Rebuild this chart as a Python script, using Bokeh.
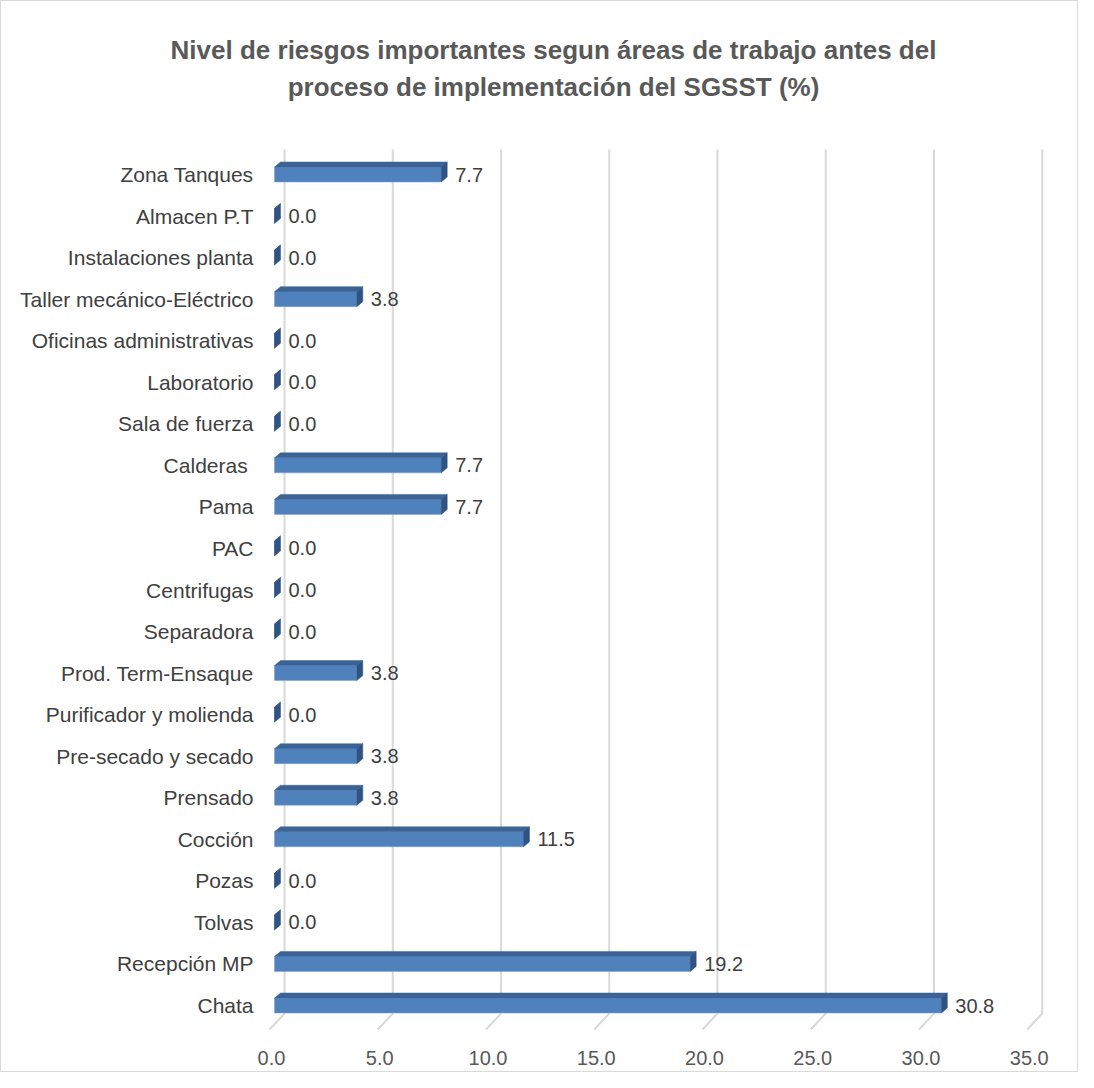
from bokeh.plotting import figure
from bokeh.models import ColumnDataSource, Range1d
from bokeh.embed import file_html
from bokeh.resources import INLINE
from bokeh.core.properties import value

# ---- data (bottom to top) ----
categories = ["Chata", "Recepción MP", "Tolvas", "Pozas", "Cocción", "Prensado",
              "Pre-secado y secado", "Purificador y molienda", "Prod. Term-Ensaque",
              "Separadora", "Centrifugas", "PAC", "Pama", "Calderas ", "Sala de fuerza",
              "Laboratorio", "Oficinas administrativas", "Taller mecánico-Eléctrico",
              "Instalaciones planta", "Almacen P.T", "Zona Tanques"]
values = [30.8, 19.2, 0.0, 0.0, 11.5, 3.8, 3.8, 0.0, 3.8, 0.0, 0.0, 0.0, 7.7, 7.7,
          0.0, 0.0, 0.0, 3.8, 0.0, 0.0, 7.7]
x_ticks = [0, 5, 10, 15, 20, 25, 30, 35]
title_lines = ["Nivel de riesgos importantes segun áreas de trabajo antes del",
               "proceso de implementación del SGSST (%)"]

FONT = "Liberation Sans"
W, H = 1078, 1072

# layout in pixels: value 0 at X0, first category centre at Y0
X0, Y0 = 273.0, 1004.0
px_x = 21.65   # px per unit of value
px_y = 41.55   # px per category step


def dx_(px):
    return px / px_x


def dy_(px):
    return px / px_y


def sx(px):
    return (px - X0) / px_x


def sy(px):
    return (Y0 - px) / px_y


p = figure(width=W, height=H, output_backend="svg", toolbar_location=None,
           x_range=Range1d(sx(0), sx(W)), y_range=Range1d(sy(H), sy(0)),
           min_border=0)
p.styles = {"border": "1px solid #D9D9D9"}
p.outline_line_color = None
p.xaxis.visible = False
p.yaxis.visible = False
p.xgrid.visible = False
p.ygrid.visible = False
p.background_fill_color = "white"
p.border_fill_color = "white"

# 3D offsets
dx = dx_(6)
dy = dy_(5)
h = dy_(15)

# back-wall gridlines with floor diagonals
gx = dx_(10)
fx = dx_(-5)
ytop, yback, yfront = sy(148), sy(1012), sy(1028)
gl_xs = [[t + gx, t + gx, t + fx] for t in x_ticks]
gl_ys = [[ytop, yback, yfront] for t in x_ticks]
p.multi_line(gl_xs, gl_ys, line_color="#D9D9D9", line_width=2)

ys = list(range(len(categories)))
# front faces
p.hbar(y=ys, left=0, right=values, height=h, fill_color="#4F81BD",
       line_color="#7BA0D4", line_width=0.5)
# top faces
top_xs = [[0, dx, v + dx, v] for v in values]
top_ys = [[y + h / 2, y + h / 2 + dy, y + h / 2 + dy, y + h / 2] for y in ys]
p.patches(top_xs, top_ys, fill_color="#3C6395", line_color="#3C6395", line_width=0.5)
# side faces
side_xs = [[v, v, v + dx, v + dx] for v in values]
side_ys = [[y - h / 2, y + h / 2, y + h / 2 + dy, y - h / 2 + dy] for y in ys]
p.patches(side_xs, side_ys, fill_color="#2F5382", line_color="#2F5382", line_width=0.5)

# value labels
src = ColumnDataSource(dict(x=values, y=ys, t=["%.1f" % v for v in values]))
p.text(x="x", y="y", text="t", source=src, x_offset=14, text_baseline="middle",
       text_align="left", text_font=value(FONT), text_font_size="20px", text_color="#404040")

# category labels (left axis)
p.text(x=[0] * len(categories), y=ys, text=categories, x_offset=-21, text_align="right",
       text_baseline="middle", text_font=value(FONT), text_font_size="21px",
       text_color="#404040")

# x tick labels (bottom axis, at the floor front)
p.text(x=x_ticks, y=[sy(1056)] * len(x_ticks), text=["%.1f" % t for t in x_ticks],
       x_offset=-3, text_align="center", text_baseline="middle", text_font=value(FONT),
       text_font_size="20px", text_color="#595959")

# title
p.text(x=[sx(552)] * 2, y=[sy(48), sy(85)], text=title_lines, text_align="center",
       text_baseline="middle", text_font=value(FONT), text_font_size="26px",
       text_font_style="bold", text_color="#595959")

open("out.html", "w").write(file_html(p, INLINE))
